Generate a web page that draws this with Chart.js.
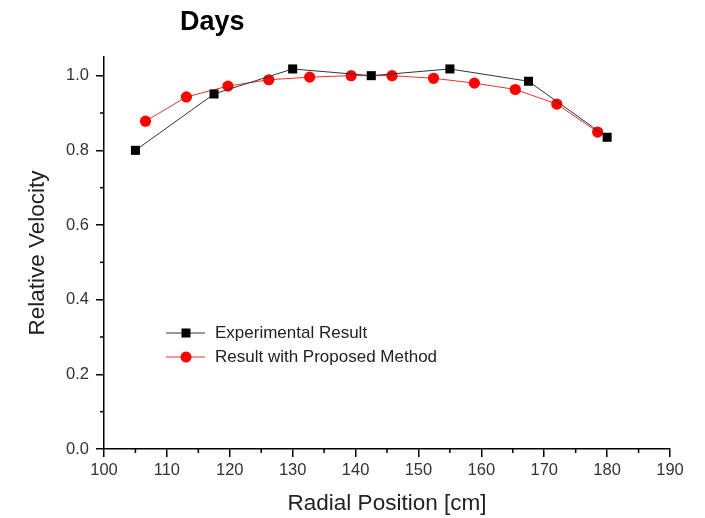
<!DOCTYPE html>
<html>
<head>
<meta charset="utf-8">
<script src="https://cdn.jsdelivr.net/npm/chart.js@4"></script>
<style>
  html, body { margin: 0; padding: 0; background: #fff; }
  #wrap { position: relative; width: 705px; height: 518px; }
</style>
</head>
<body>
<div id="wrap"><canvas id="chart" width="705" height="518"></canvas></div>
<script>
// --- data ---
const titleText = "Days";
const xTitle = "Radial Position [cm]";
const yTitle = "Relative Velocity";

const expLabel = "Experimental Result";
const expX = [105, 117.5, 130, 142.5, 155, 167.5, 180];
const expY = [0.80, 0.951, 1.018, 1.0, 1.018, 0.985, 0.835];

const propLabel = "Result with Proposed Method";
const propX = [106.6, 113.1, 119.7, 126.2, 132.7, 139.3, 145.8, 152.4, 158.9, 165.4, 172.0, 178.5];
const propY = [0.878, 0.943, 0.972, 0.989, 0.996, 1.0, 1.0, 0.993, 0.98, 0.963, 0.924, 0.849];

const xMin = 100, xMax = 190, xStep = 10;
const yMin = 0, yMax = 1.05, yTop = 1.0, yStep = 0.2;

const FONT = "'Liberation Sans', Arial, sans-serif";

// minor ticks + title + legend, drawn on the canvas
const decor = {
  id: "decor",
  afterDraw(chart) {
    const ctx = chart.ctx;
    const xs = chart.scales.x, ys = chart.scales.y;
    ctx.save();
    ctx.strokeStyle = "#000";
    ctx.lineWidth = 1.5;
    // minor ticks
    for (let v = xMin + xStep / 2; v < xMax; v += xStep) {
      const px = xs.getPixelForValue(v);
      ctx.beginPath();
      ctx.moveTo(px, ys.bottom);
      ctx.lineTo(px, ys.bottom + 4);
      ctx.stroke();
    }
    for (let v = yMin + yStep / 2; v < yTop; v += yStep) {
      const py = ys.getPixelForValue(v);
      ctx.beginPath();
      ctx.moveTo(xs.left, py);
      ctx.lineTo(xs.left - 4, py);
      ctx.stroke();
    }
    // title
    ctx.fillStyle = "#000";
    ctx.font = "bold 27px " + FONT;
    ctx.textBaseline = "alphabetic";
    ctx.textAlign = "left";
    ctx.fillText(titleText, 180, 30);
    // legend
    ctx.font = "17px " + FONT;
    ctx.textBaseline = "middle";
    chart.data.datasets.forEach((ds, i) => {
      const y = 333 + i * 24;
      ctx.strokeStyle = ds.borderColor;
      ctx.lineWidth = 1;
      ctx.beginPath();
      ctx.moveTo(166, y);
      ctx.lineTo(205, y);
      ctx.stroke();
      ctx.fillStyle = ds.pointBackgroundColor;
      if (ds.pointStyle === "rect") {
        ctx.fillRect(186 - 4.5, y - 4.5, 9, 9);
      } else {
        ctx.beginPath();
        ctx.arc(186, y, 5.5, 0, Math.PI * 2);
        ctx.fill();
      }
      ctx.fillStyle = "#222";
      ctx.fillText(ds.label, 215, y);
    });
    ctx.restore();
  }
};

new Chart(document.getElementById("chart"), {
  type: "line",
  data: {
    datasets: [
      {
        label: expLabel,
        data: expX.map((x, i) => ({ x: x, y: expY[i] })),
        borderColor: "#333",
        borderWidth: 1,
        pointStyle: "rect",
        pointRadius: 6.4,
        pointBackgroundColor: "#000",
        pointBorderColor: "#000",
        pointBorderWidth: 0,
        tension: 0
      },
      {
        label: propLabel,
        data: propX.map((x, i) => ({ x: x, y: propY[i] })),
        borderColor: "#f03030",
        borderWidth: 1,
        pointStyle: "circle",
        pointRadius: 5.6,
        pointBackgroundColor: "#ff0000",
        pointBorderColor: "#ff0000",
        pointBorderWidth: 0,
        tension: 0
      }
    ]
  },
  options: {
    responsive: false,
    animation: false,
    layout: { padding: { top: 57, right: 35, left: 0, bottom: 0 } },
    plugins: {
      legend: { display: false },
      tooltip: { enabled: false }
    },
    scales: {
      x: {
        type: "linear",
        min: xMin,
        max: xMax,
        afterFit: s => { s.height = 69; },
        ticks: {
          stepSize: xStep,
          color: "#333",
          padding: 4,
          font: { family: FONT, size: 16.5 }
        },
        grid: { drawOnChartArea: false, color: "#000", lineWidth: 1.5, tickLength: 8 },
        border: { display: true, color: "#000", width: 1.5 },
        title: {
          display: true,
          text: xTitle,
          color: "#222",
          font: { family: FONT, size: 22.5 },
          padding: { top: 0, bottom: 1 }
        }
      },
      y: {
        min: yMin,
        max: yMax,
        afterFit: s => { s.width = 104; },
        afterBuildTicks: s => { s.ticks = s.ticks.filter(t => t.value <= yTop + 1e-6); },
        ticks: {
          stepSize: yStep,
          includeBounds: false,
          autoSkip: false,
          color: "#333",
          padding: 7,
          font: { family: FONT, size: 16.5 },
          callback: v => Number(v).toFixed(1)
        },
        grid: { drawOnChartArea: false, color: "#000", lineWidth: 1.5, tickLength: 8 },
        border: { display: true, color: "#000", width: 1.5 },
        title: {
          display: true,
          text: yTitle,
          color: "#222",
          font: { family: FONT, size: 22.5 },
          padding: { top: 24, bottom: 0 }
        }
      }
    }
  },
  plugins: [decor]
});
</script>
</body>
</html>
